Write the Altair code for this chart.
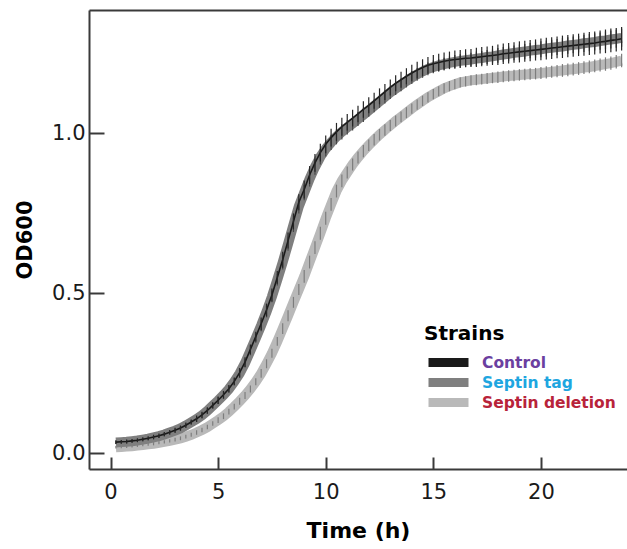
import altair as alt
import pandas as pd

STRAINS = ["Control", "Septin tag", "Septin deletion"]
LABEL_COLORS = ["#6b3fa0", "#1ea6e0", "#b8233a"]
LINE_COLORS = ["#1a1a1a", "#7f7f7f", "#b9b9b9"]
BAR_COLORS = ["#262626", "#474747", "#7d7d7d"]
LINE_WIDTHS = [1.6, 10, 10]

# sampling grid (hours)
TIME_H = [round(0.25 * k, 2) for k in range(1, 96)]

CONTROL_OD = [
    0.035, 0.036, 0.037, 0.039, 0.041, 0.044, 0.047, 0.051, 0.055, 0.060,
    0.066, 0.072, 0.079, 0.088, 0.098, 0.108, 0.120, 0.134, 0.150, 0.166,
    0.183, 0.202, 0.225, 0.252, 0.285, 0.325, 0.365, 0.405, 0.448, 0.495,
    0.550, 0.605, 0.665, 0.725, 0.785, 0.825, 0.870, 0.908, 0.940, 0.966,
    0.987, 1.005, 1.021, 1.035, 1.048, 1.061, 1.075, 1.088, 1.102, 1.116,
    1.130, 1.144, 1.157, 1.168, 1.179, 1.189, 1.198, 1.206, 1.213, 1.218,
    1.222, 1.226, 1.229, 1.231, 1.233, 1.235, 1.236, 1.238, 1.240, 1.242,
    1.244, 1.246, 1.249, 1.251, 1.253, 1.255, 1.257, 1.259, 1.261, 1.263,
    1.265, 1.267, 1.269, 1.271, 1.273, 1.275, 1.277, 1.279, 1.281, 1.283,
    1.286, 1.288, 1.291, 1.293, 1.296,
]
TAG_OD = [
    0.034, 0.035, 0.036, 0.038, 0.040, 0.043, 0.046, 0.050, 0.054, 0.059,
    0.065, 0.071, 0.078, 0.087, 0.097, 0.107, 0.119, 0.133, 0.149, 0.165,
    0.182, 0.201, 0.224, 0.250, 0.282, 0.321, 0.360, 0.400, 0.443, 0.490,
    0.543, 0.597, 0.655, 0.714, 0.772, 0.815, 0.858, 0.895, 0.927, 0.952,
    0.972, 0.990, 1.005, 1.019, 1.031, 1.045, 1.058, 1.072, 1.086, 1.100,
    1.114, 1.128, 1.140, 1.152, 1.164, 1.175, 1.185, 1.194, 1.202, 1.208,
    1.213, 1.217, 1.221, 1.224, 1.227, 1.229, 1.231, 1.234, 1.236, 1.239,
    1.241, 1.244, 1.247, 1.249, 1.252, 1.254, 1.256, 1.259, 1.261, 1.263,
    1.266, 1.268, 1.270, 1.272, 1.275, 1.277, 1.279, 1.282, 1.284, 1.286,
    1.289, 1.291, 1.294, 1.296, 1.299,
]
DELETION_OD = [
    0.019, 0.020, 0.021, 0.022, 0.024, 0.026, 0.028, 0.030, 0.033, 0.036,
    0.039, 0.043, 0.047, 0.052, 0.058, 0.065, 0.073, 0.082, 0.093, 0.104,
    0.116, 0.130, 0.146, 0.163, 0.181, 0.201, 0.224, 0.250, 0.280, 0.313,
    0.350, 0.390, 0.430, 0.472, 0.512, 0.553, 0.598, 0.643, 0.688, 0.735,
    0.778, 0.820, 0.852, 0.878, 0.903, 0.925, 0.945, 0.963, 0.980, 0.996,
    1.011, 1.025, 1.039, 1.052, 1.065, 1.078, 1.090, 1.102, 1.113, 1.123,
    1.132, 1.141, 1.148, 1.154, 1.160, 1.163, 1.166, 1.168, 1.170, 1.172,
    1.174, 1.176, 1.178, 1.180, 1.181, 1.183, 1.184, 1.186, 1.187, 1.189,
    1.191, 1.193, 1.195, 1.197, 1.199, 1.201, 1.203, 1.206, 1.208, 1.211,
    1.214, 1.217, 1.220, 1.224, 1.228,
]
# standard deviations, one per hour (0..23)
CONTROL_SD = [0.006, 0.006, 0.007, 0.008, 0.010, 0.012, 0.015, 0.020, 0.025, 0.028,
              0.028, 0.026, 0.025, 0.025, 0.026, 0.027, 0.028, 0.030, 0.032, 0.033,
              0.034, 0.035, 0.036, 0.037]
TAG_SD = [0.005, 0.005, 0.006, 0.007, 0.009, 0.011, 0.014, 0.018, 0.022, 0.024,
          0.024, 0.022, 0.020, 0.020, 0.020, 0.020, 0.021, 0.022, 0.023, 0.024,
          0.025, 0.026, 0.027, 0.028]
DELETION_SD = [0.004, 0.004, 0.005, 0.006, 0.007, 0.009, 0.011, 0.014, 0.017, 0.020,
               0.020, 0.019, 0.018, 0.017, 0.016, 0.016, 0.016, 0.017, 0.018, 0.018,
               0.019, 0.020, 0.020, 0.021]

X_TICKS = [0, 5, 10, 15, 20]
Y_TICKS = [0.0, 0.5, 1.0]
X_DOMAIN = [-1, 24]
Y_DOMAIN = [-0.049, 1.386]

FONT = "DejaVu Sans"
AXIS_COLOR = "#3a3a3a"

rows = []
for name, ods, sds in zip(STRAINS, [CONTROL_OD, TAG_OD, DELETION_OD],
                          [CONTROL_SD, TAG_SD, DELETION_SD]):
    for t, v in zip(TIME_H, ods):
        rows.append({"strain": name, "t": t, "od": v, "sd": sds[int(t)]})
df = pd.DataFrame(rows)

xs = alt.Scale(domain=X_DOMAIN, nice=False, zero=False)
ys = alt.Scale(domain=Y_DOMAIN, nice=False, zero=False)

x_label_axis = alt.Axis(orient="bottom", values=X_TICKS, ticks=False, grid=False,
                        domain=True, domainColor=AXIS_COLOR, domainWidth=2,
                        labelFont=FONT, labelFontSize=21, labelColor="#1a1a1a",
                        labelPadding=12, title="Time (h)", titleFont=FONT,
                        titleFontSize=22, titleFontWeight="bold", titleColor="#000000",
                        titlePadding=18)
y_label_axis = alt.Axis(orient="left", values=Y_TICKS, ticks=False, grid=False,
                        domain=True, domainColor=AXIS_COLOR, domainWidth=2,
                        format=".1f", labelFont=FONT, labelFontSize=21,
                        labelColor="#1a1a1a", labelPadding=4, title="OD600",
                        titleFont=FONT, titleFontSize=21, titleFontWeight="bold",
                        titleColor="#000000", titlePadding=16)
x_tick_axis = alt.Axis(orient="bottom", values=X_TICKS, offset=-12, tickSize=12,
                       tickWidth=2, tickColor=AXIS_COLOR, labels=False, domain=False,
                       grid=False, title=None)
y_tick_axis = alt.Axis(orient="left", values=Y_TICKS, offset=-15, tickSize=15,
                       tickWidth=2, tickColor=AXIS_COLOR, labels=False, domain=False,
                       grid=False, title=None)
x_top_axis = alt.Axis(orient="top", ticks=False, labels=False, domain=True,
                      domainColor=AXIS_COLOR, domainWidth=2, grid=False, title=None)

LEGEND_POS = [(335, 314, "Strains"), (335, 348, None), (335, 368, None)]


def line_layer(i, xaxis, yaxis):
    pos = LEGEND_POS[i]
    legend_kwargs = dict(orient="none", legendX=pos[0], legendY=pos[1],
                         symbolType="stroke", symbolSize=1600,
                         symbolStrokeWidth=9, labelFont=FONT,
                         labelFontSize=15.5, labelFontWeight="bold",
                         labelColor=LABEL_COLORS[i], labelOffset=9,
                         padding=0)
    if pos[2]:
        legend_kwargs.update(title=pos[2], titleFont=FONT, titleFontSize=20,
                             titleFontWeight="bold", titleColor="#000000",
                             titlePadding=-6)
    else:
        legend_kwargs.update(title=None)
    return alt.Chart(df).transform_filter(
        alt.datum.strain == STRAINS[i]
    ).mark_line(strokeWidth=LINE_WIDTHS[i], strokeCap="butt").encode(
        x=alt.X("t:Q", scale=xs, axis=xaxis),
        y=alt.Y("od:Q", scale=ys, axis=yaxis),
        color=alt.Color("strain:N",
                        scale=alt.Scale(domain=[STRAINS[i]], range=[LINE_COLORS[i]]),
                        legend=alt.Legend(**legend_kwargs)),
    )


def bar_layer(i, xaxis, yaxis):
    return alt.Chart(df).transform_filter(
        alt.datum.strain == STRAINS[i]
    ).transform_calculate(
        lo="datum.od - datum.sd", hi="datum.od + datum.sd"
    ).mark_rule(strokeWidth=1.2, color=BAR_COLORS[i]).encode(
        x=alt.X("t:Q", scale=xs, axis=xaxis),
        y=alt.Y("lo:Q", scale=ys, axis=yaxis),
        y2="hi:Q",
    )


chart = alt.layer(
    line_layer(2, x_label_axis, y_label_axis),
    bar_layer(2, x_tick_axis, y_tick_axis),
    line_layer(1, x_top_axis, None),
    bar_layer(1, None, None),
    line_layer(0, None, None),
    bar_layer(0, None, None),
).resolve_scale(color="independent").resolve_axis(
    x="independent", y="independent"
).properties(
    width=538, height=459,
    autosize=alt.AutoSizeParams(type="none"),
    padding={"left": 89, "top": 10, "right": 0, "bottom": 80},
).configure_view(stroke=None)

chart.save("out.html", embed_options={"renderer": "svg", "actions": False})
